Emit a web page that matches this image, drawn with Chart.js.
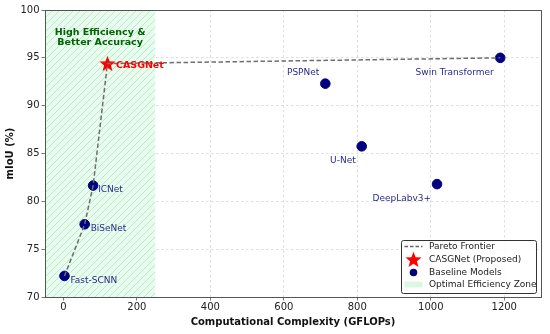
<!DOCTYPE html>
<html>
<head>
<meta charset="utf-8">
<script src="https://cdn.jsdelivr.net/npm/chart.js@4/dist/chart.umd.min.js"></script>
<style>
  html, body { margin: 0; padding: 0; background: #fff; }
  #wrap { width: 550px; height: 334px; }
</style>
</head>
<body>
<div id="wrap"><canvas id="chart" width="550" height="334"></canvas></div>
<script>
// model results (GFLOPs vs mIoU)
const baselineNames = ["Fast-SCNN", "BiSeNet", "ICNet", "PSPNet", "U-Net", "DeepLabv3+", "Swin Transformer"];
const baselineFlops = [3, 58, 81, 713, 812, 1017, 1189];
const baselineMiou = [72.2, 77.6, 81.65, 92.3, 85.75, 81.8, 95.0];

const proposedName = "CASGNet";
const proposedFlops = [120];
const proposedMiou = [94.4];

// pareto frontier goes through these
const frontierFlops = [3, 58, 81, 120, 1189];
const frontierMiou = [72.2, 77.6, 81.65, 94.4, 95.0];

const zoneRange = [-50, 250];
const xTicks = [0, 200, 400, 600, 800, 1000, 1200];

// where each baseline label goes relative to its dot: side, dx, dy
const labelPlace = [
  ["left", 6, 4.5], ["left", 6, 4], ["left", 5, 4], ["right", -6, -11.5],
  ["right", -6, 14], ["right", -6, 14.3], ["right", -6.5, 14.4]
];

const FONT = "'DejaVu Sans', sans-serif";
const NAVY = "#000080";

function starImage(r, color) {
  const c = document.createElement("canvas");
  const s = Math.ceil(r * 2 + 2);
  c.width = s; c.height = s;
  const g = c.getContext("2d");
  g.beginPath();
  for (let i = 0; i < 10; i++) {
    const rad = i % 2 === 0 ? r : r * 0.42;
    const a = -Math.PI / 2 + i * Math.PI / 5;
    const px = s / 2 + rad * Math.cos(a);
    const py = s / 2 + rad * Math.sin(a) + r * 0.08;
    if (i === 0) g.moveTo(px, py); else g.lineTo(px, py);
  }
  g.closePath();
  g.fillStyle = color;
  g.fill();
  return c;
}

function hatchPattern(ctx) {
  const t = document.createElement("canvas");
  const s = 7;
  t.width = s; t.height = s;
  const g = t.getContext("2d");
  g.fillStyle = "#e8fbee";
  g.fillRect(0, 0, s, s);
  g.strokeStyle = "#aeeebd";
  g.lineWidth = 0.9;
  g.beginPath();
  g.moveTo(0, s); g.lineTo(s, 0);
  g.moveTo(-s, s); g.lineTo(s, -s);
  g.moveTo(0, 2 * s); g.lineTo(2 * s, 0);
  g.stroke();
  return ctx.createPattern(t, "repeat");
}

const starPt = starImage(8.5, "#ff0000");
const starLegend = starImage(8.5, "#ff0000");

const zonePlugin = {
  id: "zone",
  beforeDatasetsDraw(chart) {
    const { ctx, chartArea, scales } = chart;
    const x0 = Math.max(scales.x.getPixelForValue(zoneRange[0]), chartArea.left);
    const x1 = scales.x.getPixelForValue(zoneRange[1]);
    ctx.save();
    ctx.fillStyle = hatchPattern(ctx);
    ctx.fillRect(x0, chartArea.top, x1 - x0, chartArea.bottom - chartArea.top);
    ctx.fillStyle = "#006400";
    ctx.font = "bold 9.5px " + FONT;
    ctx.textAlign = "center";
    ctx.textBaseline = "middle";
    const cx = scales.x.getPixelForValue(100);
    ctx.fillText("High Efficiency &", cx, scales.y.getPixelForValue(97.65));
    ctx.fillText("Better Accuracy", cx, scales.y.getPixelForValue(96.55));
    ctx.restore();
  }
};

const labelPlugin = {
  id: "labels",
  afterDatasetsDraw(chart) {
    const { ctx } = chart;
    const ca = chart.chartArea;
    ctx.save();
    // frame on all four sides
    ctx.strokeStyle = "#555";
    ctx.lineWidth = 1;
    ctx.strokeRect(Math.round(ca.left) + 0.5, Math.round(ca.top) + 0.5,
      Math.round(ca.right - ca.left), Math.round(ca.bottom - ca.top));

    ctx.textBaseline = "middle";
    const base = chart.getDatasetMeta(2).data;
    ctx.font = "9px " + FONT;
    ctx.fillStyle = "#2a2a8e";
    base.forEach((pt, i) => {
      const [side, dx, dy] = labelPlace[i];
      ctx.textAlign = side;
      ctx.fillText(baselineNames[i], pt.x + dx, pt.y + dy);
    });
    const star = chart.getDatasetMeta(1).data[0];
    ctx.font = "bold 9.5px " + FONT;
    ctx.fillStyle = "#ff0000";
    ctx.textAlign = "left";
    ctx.fillText(proposedName, star.x + 8.5, star.y + 1.5);

    // legend box, lower right
    const w = 135, h = 53;
    const lx = Math.round(ca.right - 5 - w), ly = Math.round(ca.bottom - 4.5 - h);
    ctx.fillStyle = "rgba(255,255,255,0.85)";
    ctx.strokeStyle = "#333";
    ctx.lineWidth = 1;
    ctx.beginPath();
    ctx.roundRect(lx + 0.5, ly + 0.5, w, h, 2);
    ctx.fill();
    ctx.stroke();
    const mx = lx + 12.5, tx = lx + 28;
    const rows = [ly + 6.5, ly + 19.5, ly + 32.5, ly + 44.5];
    ctx.font = "9px " + FONT;
    ctx.fillStyle = "#222";
    ctx.textAlign = "left";
    ["Pareto Frontier", "CASGNet (Proposed)", "Baseline Models", "Optimal Efficiency Zone"]
      .forEach((t, i) => ctx.fillText(t, tx, rows[i] + 0.5));
    ctx.strokeStyle = "#666";
    ctx.lineWidth = 1.3;
    ctx.setLineDash([3.5, 2]);
    ctx.beginPath();
    ctx.moveTo(mx - 9, rows[0]);
    ctx.lineTo(mx + 9, rows[0]);
    ctx.stroke();
    ctx.setLineDash([]);
    ctx.drawImage(starLegend, mx - starLegend.width / 2, rows[1] - starLegend.height / 2);
    ctx.fillStyle = NAVY;
    ctx.beginPath();
    ctx.arc(mx, rows[2], 3.8, 0, Math.PI * 2);
    ctx.fill();
    ctx.fillStyle = "#dcf8e3";
    ctx.fillRect(mx - 9, rows[3] - 3, 18, 6);
    ctx.restore();
  }
};

const plainNum = v => String(v);

const ctx = document.getElementById("chart").getContext("2d");
new Chart(ctx, {
  type: "scatter",
  data: {
    datasets: [
      {
        type: "line",
        label: "Pareto Frontier",
        data: frontierFlops.map((x, i) => ({ x, y: frontierMiou[i] })),
        borderColor: "#6e6e6e",
        borderWidth: 1.5,
        borderDash: [4.5, 2.5],
        pointRadius: 0,
        fill: false,
        tension: 0
      },
      {
        label: "CASGNet (Proposed)",
        data: proposedFlops.map((x, i) => ({ x, y: proposedMiou[i] })),
        pointStyle: starPt,
        pointRadius: 8
      },
      {
        label: "Baseline Models",
        data: baselineFlops.map((x, i) => ({ x, y: baselineMiou[i] })),
        backgroundColor: NAVY,
        borderColor: NAVY,
        pointRadius: 4.8,
        pointHoverRadius: 4.8
      }
    ]
  },
  options: {
    responsive: false,
    animation: false,
    layout: { padding: { top: 10, right: 0.3, left: 0, bottom: 0 } },
    plugins: { legend: { display: false }, tooltip: { enabled: false } },
    scales: {
      x: {
        type: "linear",
        min: -50,
        max: 1300,
        afterBuildTicks(axis) { axis.ticks = xTicks.map(v => ({ value: v })); },
        afterFit(axis) { axis.height = 37; axis.paddingLeft = 0; axis.paddingRight = 0; },
        border: { color: "#555", width: 1, dash: [2.5, 2.5] },
        grid: {
          color: "#d6d6d6",
          tickColor: "#555",
          tickLength: 3.5,
          tickBorderDash: [],
          lineWidth: 0.8
        },
        ticks: { color: "#222", font: { family: FONT, size: 10 }, padding: 1, maxRotation: 0, callback: plainNum },
        title: {
          display: true,
          text: "Computational Complexity (GFLOPs)",
          color: "#111",
          font: { family: FONT, size: 10, weight: "bold" },
          padding: { top: 1, bottom: 6 }
        }
      },
      y: {
        min: 70,
        max: 100,
        ticks: { stepSize: 5, color: "#222", font: { family: FONT, size: 10 }, padding: 2, callback: plainNum },
        afterFit(axis) { axis.width = 45; axis.paddingTop = 0; axis.paddingBottom = 0; },
        border: { color: "#555", width: 1, dash: [2.5, 2.5] },
        grid: {
          color: "#d6d6d6",
          tickColor: "#555",
          tickLength: 3.5,
          tickBorderDash: [],
          lineWidth: 0.8
        },
        title: {
          display: true,
          text: "mIoU (%)",
          color: "#111",
          font: { family: FONT, size: 10, weight: "bold" },
          padding: { top: 4, bottom: 2 }
        }
      }
    }
  },
  plugins: [zonePlugin, labelPlugin]
});
</script>
</body>
</html>
